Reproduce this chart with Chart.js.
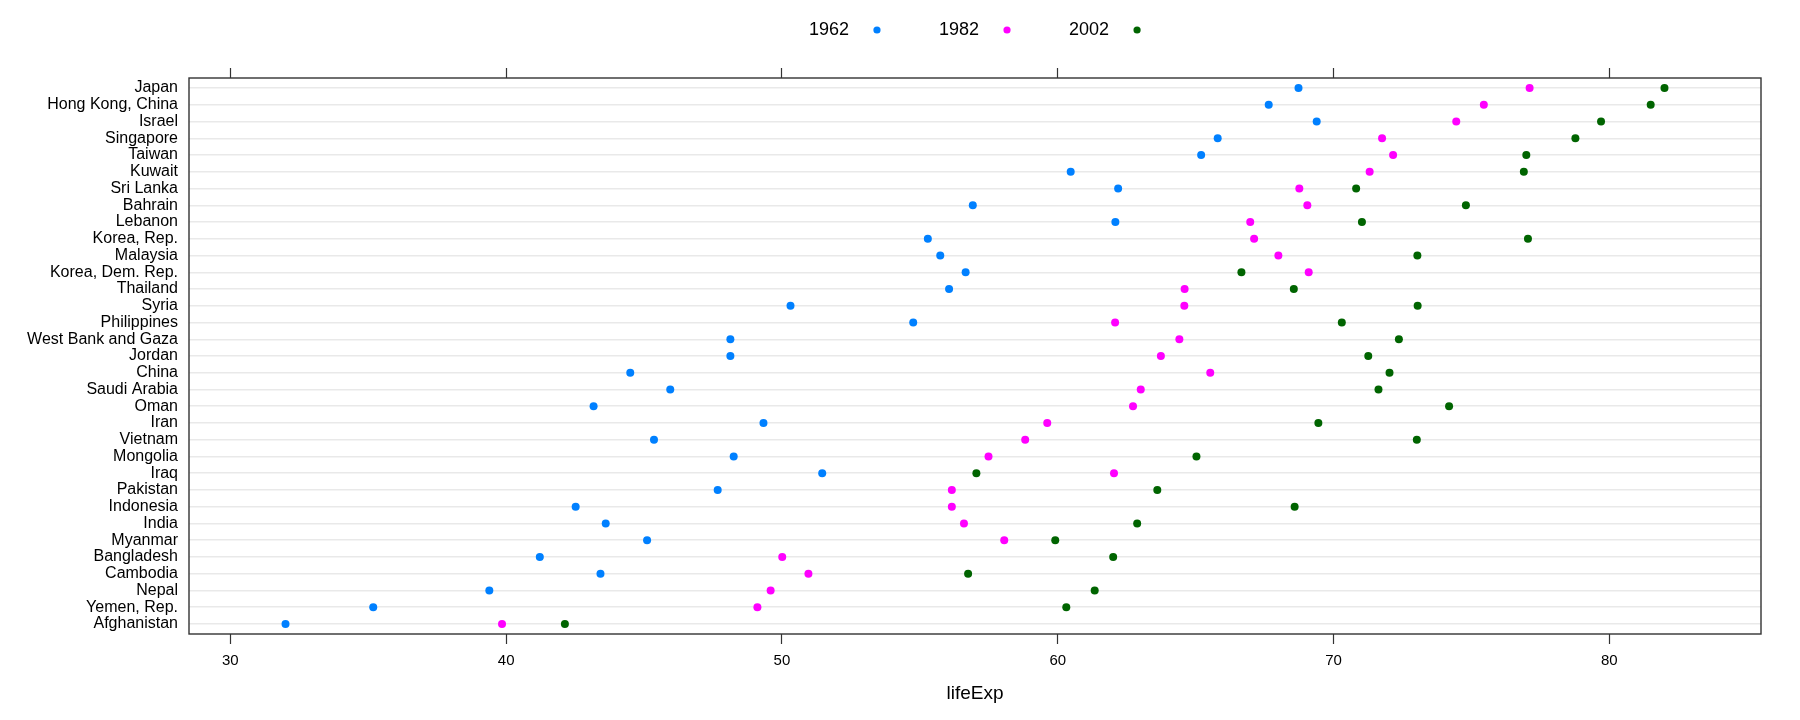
<!DOCTYPE html>
<html>
<head>
<meta charset="utf-8">
<script src="https://cdn.jsdelivr.net/npm/chart.js@4.4.1/dist/chart.umd.min.js"></script>
<style>
  html, body { margin: 0; padding: 0; background: #fff; }
  #wrap { width: 1800px; height: 720px; }
</style>
</head>
<body>
<div id="wrap"><canvas id="dot-chart" width="1800" height="720"></canvas></div>
<script>
// ── Data (top row first) ─────────────────────────────────────────
const countries = ['Japan', 'Hong Kong, China', 'Israel', 'Singapore', 'Taiwan', 'Kuwait', 'Sri Lanka', 'Bahrain',
  'Lebanon', 'Korea, Rep.', 'Malaysia', 'Korea, Dem. Rep.', 'Thailand', 'Syria', 'Philippines', 'West Bank and Gaza',
  'Jordan', 'China', 'Saudi Arabia', 'Oman', 'Iran', 'Vietnam', 'Mongolia', 'Iraq', 'Pakistan', 'Indonesia', 'India',
  'Myanmar', 'Bangladesh', 'Cambodia', 'Nepal', 'Yemen, Rep.', 'Afghanistan'];
const life1962 = [68.73, 67.65, 69.39, 65.80, 65.20, 60.47, 62.19, 56.92, 62.09, 55.29, 55.74, 56.66, 56.06, 50.31,
  54.76, 48.13, 48.13, 44.50, 45.95, 43.17, 49.33, 45.36, 48.25, 51.46, 47.67, 42.52, 43.61, 45.11, 41.22, 43.42,
  39.39, 35.18, 32.00];
const life1982 = [77.11, 75.45, 74.45, 71.76, 72.16, 71.31, 68.76, 69.05, 66.98, 67.12, 68.00, 69.10, 64.60, 64.59,
  62.08, 64.41, 63.74, 65.53, 63.01, 62.73, 59.62, 58.82, 57.49, 62.04, 56.16, 56.16, 56.60, 58.06, 50.01, 50.96,
  49.59, 49.11, 39.85];
const life2002 = [82.00, 81.50, 79.70, 78.77, 76.99, 76.90, 70.82, 74.80, 71.03, 77.05, 73.04, 66.66, 68.56, 73.05,
  70.30, 72.37, 71.26, 72.03, 71.63, 74.19, 69.45, 73.02, 65.03, 57.05, 63.61, 68.59, 62.88, 59.91, 62.01, 56.75,
  61.34, 60.31, 42.13];
const years = ['1962', '1982', '2002'];
const yearColors = ['#0080ff', '#ff00ff', '#006400'];
const xTicks = [30, 40, 50, 60, 70, 80];

const FONT = '"Liberation Sans", Arial, sans-serif';

// lattice style range: data extent padded by 7% each side
const allVals = [...life1962, ...life1982, ...life2002];
const lo = Math.min(...allVals), hi = Math.max(...allVals);
const pad = (hi - lo) * 0.07;

const series = [life1962, life1982, life2002];
const datasets = series.map((vals, k) => ({
  label: years[k],
  data: vals.map((v, i) => ({ x: v, y: i + 1 })),
  backgroundColor: yearColors[k],
  borderWidth: 0,
  pointRadius: 4,
  pointHoverRadius: 4,
  order: series.length - 1 - k
}));

// ── Plugins ──────────────────────────────────────────────────────
const frame = {
  id: 'frame',
  afterDatasetsDraw(chart) {
    const { ctx, chartArea: a } = chart;
    ctx.save();
    ctx.strokeStyle = '#333';
    ctx.lineWidth = 1.4;
    ctx.strokeRect(a.left, a.top, a.right - a.left, a.bottom - a.top);
    ctx.restore();
  }
};

const yearLegend = {
  id: 'yearLegend',
  afterDraw(chart) {
    const { ctx, chartArea: a } = chart;
    ctx.save();
    ctx.font = '18px ' + FONT;
    ctx.textBaseline = 'middle';
    ctx.textAlign = 'left';
    const items = chart.data.datasets.map(d => {
      const tw = ctx.measureText(d.label).width;
      return { label: d.label, color: d.backgroundColor, tw, w: tw + 32 };
    });
    const gap = 58;
    const total = items.reduce((s, it) => s + it.w, 0) + gap * (items.length - 1);
    let x = (a.left + a.right) / 2 - total / 2;
    const y = 30;
    items.forEach(it => {
      ctx.fillStyle = '#000';
      ctx.fillText(it.label, x, y);
      ctx.fillStyle = it.color;
      ctx.beginPath();
      ctx.arc(x + it.tw + 28, y, 3.6, 0, Math.PI * 2);
      ctx.fill();
      x += it.w + gap;
    });
    ctx.restore();
  }
};

const setTicks = s => { s.ticks = xTicks.map(v => ({ value: v })); };

// ── Chart ────────────────────────────────────────────────────────
new Chart(document.getElementById('dot-chart'), {
  type: 'scatter',
  data: { datasets },
  options: {
    responsive: false,
    animation: false,
    devicePixelRatio: 1,
    layout: { padding: { left: 0, right: 39, top: 0, bottom: 0 } },
    plugins: { legend: { display: false }, tooltip: { enabled: false } },
    scales: {
      x: {
        type: 'linear', position: 'bottom', min: lo - pad, max: hi + pad,
        afterBuildTicks: setTicks,
        afterFit: s => { s.height = 86; },
        border: { display: false },
        grid: { drawOnChartArea: false, drawTicks: true, tickLength: 10, tickColor: '#333', tickWidth: 1.2 },
        ticks: { color: '#000', padding: 8, font: { family: FONT, size: 15 } },
        title: { display: true, text: 'lifeExp', color: '#000', font: { family: FONT, size: 19 }, padding: { top: 0, bottom: 15 } }
      },
      x2: {
        type: 'linear', position: 'top', min: lo - pad, max: hi + pad,
        afterBuildTicks: setTicks,
        afterFit: s => { s.height = 78; },
        border: { display: false },
        grid: { drawOnChartArea: false, drawTicks: true, tickLength: 10, tickColor: '#333', tickWidth: 1.2 },
        ticks: { display: false }
      },
      y: {
        type: 'linear', reverse: true, min: 0.4, max: countries.length + 0.6,
        afterBuildTicks: s => { s.ticks = countries.map((c, i) => ({ value: i + 1 })); },
        afterFit: s => { s.width = 189; },
        border: { display: false },
        grid: { color: '#e9e9e9', lineWidth: 1.5, drawTicks: false },
        ticks: { color: '#000', padding: 11, autoSkip: false, font: { family: FONT, size: 16 },
          callback: v => countries[v - 1] }
      }
    }
  },
  plugins: [frame, yearLegend]
});
</script>
</body>
</html>
